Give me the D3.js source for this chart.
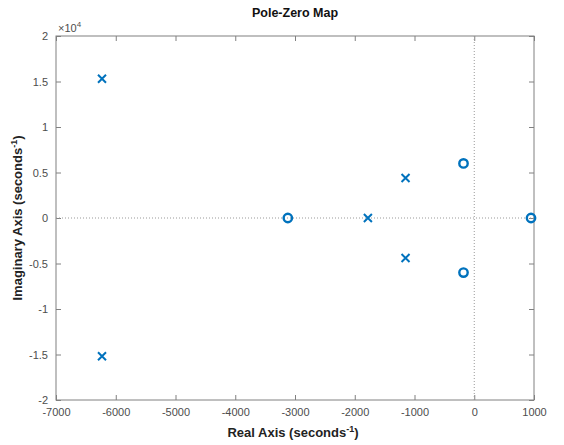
<!DOCTYPE html>
<html lang="en">
<head>
<meta charset="UTF-8">
<title>Pole-Zero Map</title>
<script src="https://d3js.org/d3.v7.min.js"></script>
<style>
    body { margin: 0; background: #fff; }
    svg { font-family: "Liberation Sans", Arial, sans-serif; }
    .tick text { fill: #4d4d4d; font-size: 11px; }
    .tick line, .domain { stroke: #808080; }
    .axis-label { font-size: 13px; font-weight: bold; fill: #222; }
</style>
</head>
<body>
<div id="chart"></div>
<script>
    // poles (x markers) and zeros (o markers), imaginary part in units of 1e4
    const poleReal = [-6230, -6230, -1780, -1150, -1150];
    const poleImag = [1.53, -1.52, 0, 0.44, -0.44];
    const zeroReal = [-3120, -180, -180, 950];
    const zeroImag = [0, 0.6, -0.6, 0];

    const xTicks = [-7000, -6000, -5000, -4000, -3000, -2000, -1000, 0, 1000];
    const yTicks = [-2, -1.5, -1, -0.5, 0, 0.5, 1, 1.5, 2];

    const W = 564, H = 445;
    const margin = { top: 36, right: 30, bottom: 45, left: 56 };
    const width = W - margin.left - margin.right;
    const height = H - margin.top - margin.bottom;

    const svg = d3.select("#chart").append("svg")
        .attr("width", W).attr("height", H);
    const g = svg.append("g").attr("transform", `translate(${margin.left},${margin.top})`);

    const x = d3.scaleLinear().domain([-7000, 1000]).range([0, width]);
    const y = d3.scaleLinear().domain([-2, 2]).range([height, 0]);

    const tl = 5;
    g.append("g").attr("transform", `translate(0,${height})`)
        .call(d3.axisBottom(x).tickValues(xTicks).tickSize(-tl).tickPadding(8).tickFormat(d => String(d)))
        .call(a => a.select(".domain").remove());
    g.append("g").attr("transform", `translate(0,0)`)
        .call(d3.axisTop(x).tickValues(xTicks).tickSize(-tl).tickFormat(""))
        .call(a => a.select(".domain").remove());
    g.append("g")
        .call(d3.axisLeft(y).tickValues(yTicks).tickSize(-tl).tickPadding(8).tickFormat(d => String(d)))
        .call(a => a.select(".domain").remove());
    g.append("g").attr("transform", `translate(${width},0)`)
        .call(d3.axisRight(y).tickValues(yTicks).tickSize(-tl).tickFormat(""))
        .call(a => a.select(".domain").remove());

    g.selectAll(".tick line").attr("stroke", "#808080");

    // box
    g.append("rect").attr("width", width).attr("height", height)
        .attr("fill", "none").attr("stroke", "#808080").attr("stroke-width", 1);

    // dotted zero lines
    g.append("line").attr("x1", 0).attr("x2", width).attr("y1", y(0)).attr("y2", y(0))
        .attr("stroke", "#999").attr("stroke-dasharray", "1,2");
    g.append("line").attr("x1", x(0)).attr("x2", x(0)).attr("y1", 0).attr("y2", height)
        .attr("stroke", "#999").attr("stroke-dasharray", "1,2");

    const blue = "#0072BD";
    const poles = poleReal.map((r, i) => ({ r, im: poleImag[i] }));
    const zeros = zeroReal.map((r, i) => ({ r, im: zeroImag[i] }));

    const s = 4;
    g.selectAll(".pole").data(poles).join("path")
        .attr("class", "pole")
        .attr("transform", d => `translate(${x(d.r)},${y(d.im)})`)
        .attr("d", `M${-s},${-s}L${s},${s}M${-s},${s}L${s},${-s}`)
        .attr("stroke", blue).attr("stroke-width", 2).attr("fill", "none");

    g.selectAll(".zero").data(zeros).join("circle")
        .attr("class", "zero")
        .attr("cx", d => x(d.r)).attr("cy", d => y(d.im)).attr("r", 4.2)
        .attr("stroke", blue).attr("stroke-width", 2.4).attr("fill", "none");

    // exponent label
    const ex = svg.append("text").attr("x", margin.left + 2).attr("y", margin.top - 4)
        .attr("fill", "#4d4d4d").attr("font-size", 11);
    ex.append("tspan").text("\u00d710");
    ex.append("tspan").attr("dy", -5).attr("font-size", 8).text("4");

    // title
    svg.append("text").attr("x", margin.left + width / 2).attr("y", 17)
        .attr("text-anchor", "middle").attr("font-size", 12.5).attr("font-weight", "bold")
        .attr("fill", "#111").text("Pole-Zero Map");

    // x label
    const xl = svg.append("text").attr("class", "axis-label")
        .attr("x", margin.left + width / 2 - 2).attr("y", H - 8).attr("text-anchor", "middle");
    xl.append("tspan").text("Real Axis (seconds");
    xl.append("tspan").attr("dy", -5).attr("font-size", 9).text("-1");
    xl.append("tspan").attr("dy", 5).text(")");

    // y label
    const yl = svg.append("text").attr("class", "axis-label")
        .attr("transform", `translate(22,${margin.top + height / 2}) rotate(-90)`)
        .attr("text-anchor", "middle");
    yl.append("tspan").text("Imaginary Axis (seconds");
    yl.append("tspan").attr("dy", -5).attr("font-size", 9).text("-1");
    yl.append("tspan").attr("dy", 5).text(")");
</script>
</body>
</html>
